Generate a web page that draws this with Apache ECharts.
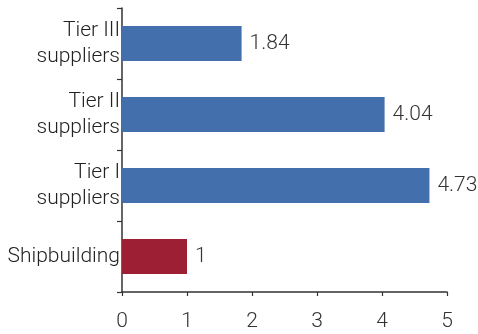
<!DOCTYPE html>
<html><head><meta charset="utf-8">
<script src="https://cdn.jsdelivr.net/npm/echarts@6/dist/echarts.min.js"></script>
<style>html,body{margin:0;padding:0;background:#fff}#c{width:478px;height:334px}</style>
</head><body><div id="c"></div>
<script>
const categories = ['Shipbuilding', 'Tier I\nsuppliers', 'Tier II\nsuppliers', 'Tier III\nsuppliers'];
const values = [1, 4.73, 4.04, 1.84];
const barColors = ['#9c1f33', '#436fad', '#436fad', '#436fad'];
const xTicks = [0, 1, 2, 3, 4, 5];

const font = 'Roboto';
const chart = echarts.init(document.getElementById('c'));
chart.setOption({
  animation: false,
  grid: {left: 122, right: 31, top: 8, bottom: 42, containLabel: false},
  xAxis: {
    type: 'value', min: xTicks[0], max: xTicks[xTicks.length - 1], interval: 1,
    splitLine: {show: false},
    axisLine: {show: true, lineStyle: {color: '#333', width: 1.5}},
    axisTick: {show: true, length: 4, lineStyle: {color: '#333', width: 1.2}},
    axisLabel: {color: '#333', fontSize: 21, fontFamily: font, fontWeight: 300, margin: 19}
  },
  yAxis: {
    type: 'category', data: categories,
    axisLine: {show: true, lineStyle: {color: '#333', width: 1.5}},
    axisTick: {show: true, length: 5, lineStyle: {color: '#333', width: 1.2}},
    axisLabel: {color: '#222', fontSize: 21, fontFamily: font, fontWeight: 300, margin: 2, lineHeight: 26, align: 'right'}
  },
  series: [{
    type: 'bar', barWidth: 35,
    data: values.map((v, i) => ({value: v, itemStyle: {color: barColors[i]}})),
    label: {show: true, position: 'right', distance: 8, color: '#333', fontSize: 21, fontFamily: font, fontWeight: 300}
  }]
});
</script></body></html>
